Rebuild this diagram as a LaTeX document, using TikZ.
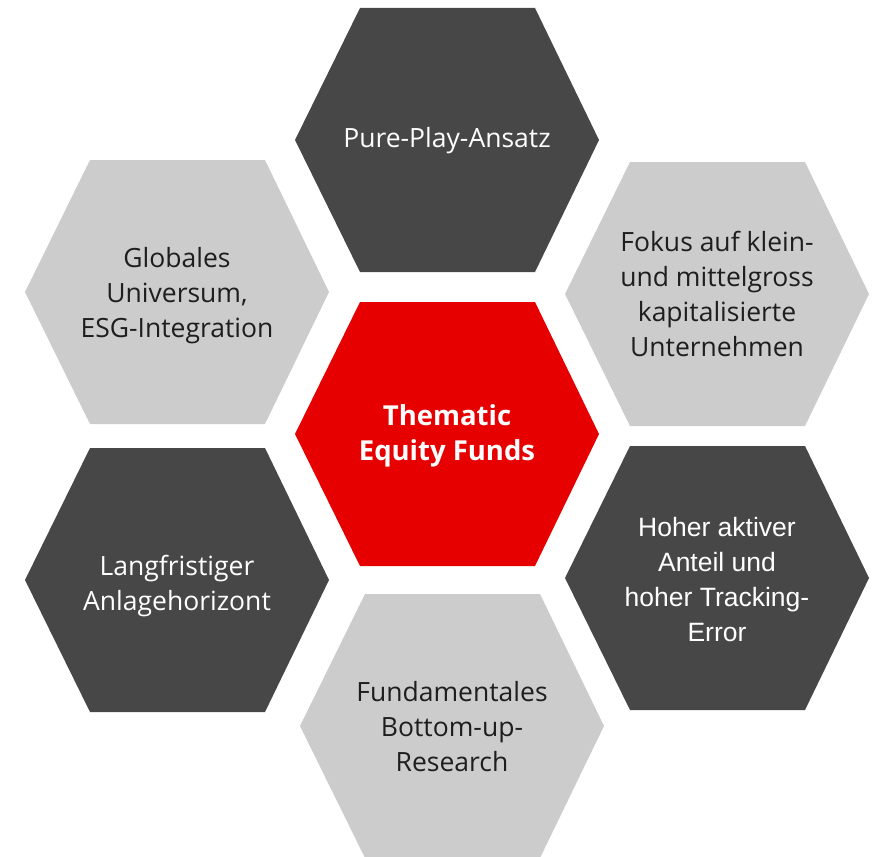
\documentclass[tikz,border=0pt]{standalone}
\usepackage{fontspec}
\setmainfont{Open Sans}
\newfontfamily\helvfont{Liberation Sans}

\definecolor{hexdark}{HTML}{474747}
\definecolor{hexlight}{HTML}{CCCCCC}
\definecolor{hexred}{HTML}{E60000}
\definecolor{hexink}{HTML}{1E1E1E}

\begin{document}
\begin{tikzpicture}
  [x=1pt,y=-1pt,
   hexlabel/.style={align=center,inner sep=0pt,font=\fontsize{26.5}{35}\selectfont},
   onlight/.style={hexlabel,text=hexink},
   ondark/.style={hexlabel,text=white}]
  \useasboundingbox (0,0) rectangle (880,856);

  % honeycomb
  \foreach \cx/\cy/\col in {447/140/hexdark,447/434/hexred,177/292/hexlight,
                            717/294/hexlight,177/580/hexdark,717/578/hexdark,
                            452/726/hexlight}
    \fill[\col] (\cx-152,\cy) -- (\cx-87,\cy-132) -- (\cx+88,\cy-132)
      -- (\cx+152,\cy) -- (\cx+88,\cy+132) -- (\cx-87,\cy+132) -- cycle;

  \node[ondark] (pure) at (447,141) {Pure-Play-Ansatz};
  \node[ondark,font=\fontsize{27.5}{35}\selectfont\bfseries] (funds) at (447,436)
    {Thematic\\Equity Funds};
  \node[onlight] (global) at (177,296) {Globales\\Universum,\\ESG-Integration};
  \node[onlight] (fokus) at (717,294) {Fokus auf klein-\\und mittelgross\\kapitalisierte\\Unternehmen};
  \node[ondark] (horizont) at (177,586) {Langfristiger\\Anlagehorizont};
  \node[ondark,font=\fontsize{26.5}{35}\selectfont\helvfont] (tracking) at (717,580)
    {Hoher aktiver\\Anteil und\\hoher Tracking-\\Error};
  \node[onlight] (research) at (452,727) {Fundamentales\\Bottom-up-\\Research};

\end{tikzpicture}
\end{document}
